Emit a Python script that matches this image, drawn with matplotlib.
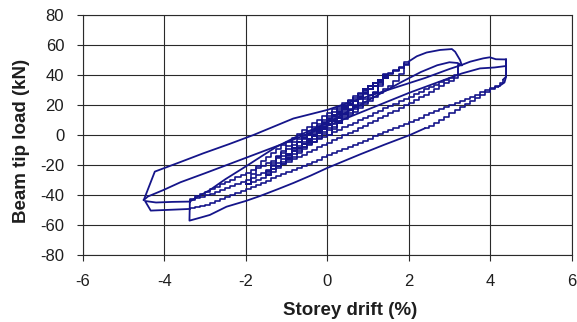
import matplotlib
matplotlib.use("Agg")
import matplotlib.pyplot as plt

plt.rcParams['font.family'] = ['Liberation Sans', 'DejaVu Sans']
plt.rcParams['axes.unicode_minus'] = False

LINE = '#15158a'
GRID = '#2a2a2a'
TEXT = '#1e1e1e'

# Small elastic cycles (+/-0.5, +/-1, +/-1.5, +/-2 %), recorded in small steps
small_drift = [
    0, 0.125, 0.25, 0.375, 0.5,
    0.375, 0.25, 0.125, 0, -0.125, -0.25, -0.375, -0.5,
    -0.375, -0.25, -0.125, 0, 0.125, 0.25, 0.375, 0.5,
    0.375, 0.25, 0.125, 0, -0.125, -0.25, -0.375, -0.5,
    # +/-1 %
    -0.375, -0.25, -0.125, 0, 0.125, 0.25, 0.375, 0.5, 0.625, 0.75, 0.875, 1.0,
    0.875, 0.75, 0.625, 0.5, 0.375, 0.25, 0.125, 0, -0.125, -0.25, -0.375, -0.5, -0.625, -0.75, -0.875, -1.0,
    -0.875, -0.75, -0.625, -0.5, -0.375, -0.25, -0.125, 0, 0.125, 0.25, 0.375, 0.5, 0.625, 0.75, 0.875, 1.0,
    0.875, 0.75, 0.625, 0.5, 0.375, 0.25, 0.125, 0, -0.125, -0.25, -0.375, -0.5, -0.625, -0.75, -0.875, -1.0,
    # +/-1.5 %
    -0.875, -0.75, -0.625, -0.5, -0.375, -0.25, -0.125, 0, 0.125, 0.25, 0.375, 0.5, 0.625, 0.75, 0.875, 1.0,
    1.125, 1.25, 1.375, 1.5,
    1.375, 1.25, 1.125, 1.0, 0.875, 0.75, 0.625, 0.5, 0.375, 0.25, 0.125, 0, -0.125, -0.25, -0.375, -0.5,
    -0.625, -0.75, -0.875, -1.0, -1.125, -1.25, -1.375, -1.5,
    -1.375, -1.25, -1.125, -1.0, -0.875, -0.75, -0.625, -0.5, -0.375, -0.25, -0.125, 0, 0.125, 0.25, 0.375,
    0.5, 0.625, 0.75, 0.875, 1.0, 1.125, 1.25, 1.375, 1.5,
    1.375, 1.25, 1.125, 1.0, 0.875, 0.75, 0.625, 0.5, 0.375, 0.25, 0.125, 0, -0.125, -0.25, -0.375, -0.5,
    -0.625, -0.75, -0.875, -1.0, -1.125, -1.25, -1.375, -1.5,
    # +/-2 %
    -1.375, -1.25, -1.125, -1.0, -0.875, -0.75, -0.625, -0.5, -0.375, -0.25, -0.125, 0, 0.125, 0.25, 0.375,
    0.5, 0.625, 0.75, 0.875, 1.0, 1.125, 1.25, 1.375, 1.5, 1.625, 1.75, 1.875, 2.0,
    1.875, 1.75, 1.625, 1.5, 1.375, 1.25, 1.125, 1.0, 0.875, 0.75, 0.625, 0.5, 0.375, 0.25, 0.125, 0,
    -0.125, -0.25, -0.375, -0.5, -0.625, -0.75, -0.875, -1.0, -1.125, -1.25, -1.375, -1.5, -1.625, -1.75,
    -1.875, -2.0,
    -1.875, -1.75, -1.625, -1.5, -1.375, -1.25, -1.125, -1.0, -0.875, -0.75, -0.625, -0.5, -0.375, -0.25,
    -0.125, 0, 0.125, 0.25, 0.375, 0.5, 0.625, 0.75, 0.875, 1.0, 1.125, 1.25, 1.375, 1.5, 1.625, 1.75,
    1.875, 2.0]
small_load = [
    0, 4, 8, 13, 19,
    14, 10, 7.5, 5, 2.5, 0, -2.5, -5,
    1.5, 4, 6.5, 9, 11.5, 14, 16.5, 19.5,
    14.5, 10, 7.5, 5, 2.5, 0, -2.5, -5,
    0, 4, 7.5, 10, 12.5, 15, 17.5, 20, 22.5, 25, 27.5, 30,
    24, 19, 16.5, 14, 11.5, 9, 6.5, 4, 1.5, -1, -3.5, -6, -8.5, -11, -13.5, -16,
    -9, -5, -2.5, 0, 2.5, 5, 7.5, 10, 12.5, 15, 17.5, 20.5, 23, 25.5, 28, 31,
    25, 20, 17.5, 15, 12.5, 10, 7.5, 5, 2.5, 0, -2.5, -5, -7.5, -10, -12.5, -15,
    -8.5, -4.5, -1.5, 1, 3.5, 6, 8.5, 11, 13.5, 16, 18.5, 21, 23.5, 26, 28.5, 31,
    33, 35.5, 38, 40,
    33, 28, 25, 22, 19.5, 17, 14.5, 12, 9.5, 7, 4.5, 2, -0.5, -3, -5.5, -8,
    -10.5, -13, -15.5, -18, -20.5, -23, -25, -27,
    -20, -15, -12, -9.5, -7, -4.5, -2, 0.5, 3, 5.5, 8, 10.5, 13, 15.5, 18,
    20.5, 23, 25.5, 28, 30.5, 33, 35.5, 38, 41,
    34, 29, 26.5, 24, 21.5, 19, 16.5, 14, 11.5, 9, 6.5, 4, 1.5, -1, -3.5, -6,
    -8.5, -11, -13.5, -16, -18.5, -21, -23.5, -26,
    -19, -14, -10.5, -7.5, -5, -2.5, 0, 2.5, 5, 7.5, 10, 12.5, 15, 17.5, 20,
    22.5, 25, 27.5, 30, 32.5, 35, 37, 39, 41, 43, 45, 47, 49,
    41, 36, 33, 30.5, 28, 25.5, 23, 20.5, 18, 15.5, 13, 10.5, 8, 5.5, 3, 0.5,
    -2, -4.5, -7, -9.5, -12, -14.5, -17, -19.5, -22, -24.5, -26.5, -28.5, -30, -31.5,
    -32.5, -33,
    -26, -21, -17.5, -14.5, -12, -9.5, -7, -4.5, -2, 0.5, 3, 5.5, 8, 10,
    12.5, 14.5, 17, 19, 21.5, 23.5, 26, 28, 30.5, 32.5, 35, 37, 39.5, 41.5, 43.5, 45.5,
    47.5, 49]

# First excursion to +3.3 %
peak1_drift = [2.0, 2.2, 2.44, 2.77, 3.06, 3.14, 3.26, 3.30]
peak1_load = [49, 52.5, 55, 56.7, 57.3, 55.5, 50, 46.7]

# Return to -3.4 % (stepped record)
back1_drift = [3.30, 3.2, 3.1, 3.0, 2.875, 2.75, 2.625, 2.5, 2.375, 2.25, 2.125, 2.0, 1.875,
               1.75, 1.625, 1.5, 1.375, 1.25, 1.125, 1.0, 0.875, 0.75, 0.625, 0.5, 0.375,
               0.25, 0.125, 0, -0.125, -0.25, -0.375, -0.5, -0.625, -0.75, -0.875, -1.0,
               -1.125, -1.25, -1.375, -1.5, -1.625, -1.75, -1.875, -2.0, -2.125, -2.25,
               -2.375, -2.5, -2.625, -2.75, -2.875, -3.0, -3.125, -3.25, -3.37]
back1_load = [46.7, 40, 38, 36.7, 35.1, 33.5, 32, 30.4, 28.8, 27.2, 25.6, 24, 22.4,
              20.9, 19.3, 17.7, 16.1, 14.5, 12.9, 11.3, 9.8, 8.2, 6.6, 5, 3.4,
              1.8, 0.3, -1.3, -2.9, -4.5, -6.1, -7.7, -9.3, -10.8, -12.4, -14,
              -15.6, -17.2, -18.8, -20.4, -21.9, -23.5, -25.1, -26.7, -28.3, -29.9,
              -31.5, -33, -34.6, -36.2, -37.8, -39.4, -41, -42.6, -44.4]

# Second excursion to +3.3 %
fwd2_drift = [-3.37, -3.2, -2.88, -2.5, -2.0, -1.6, -1.24, -0.67, 0, 0.6, 1.2, 1.8,
              2.3, 2.7, 3.0, 3.2, 3.3]
fwd2_load = [-44.4, -41.5, -36.7, -29.5, -21, -14, -7.8, 0, 8, 17, 26, 35,
             42, 46.5, 48.5, 48, 46.5]

back2_drift = [3.3, 3.2, 3.1, 3.0, 2.875, 2.75, 2.625, 2.5, 2.375, 2.25, 2.125, 2.0, 1.875,
               1.75, 1.625, 1.5, 1.375, 1.25, 1.125, 1.0, 0.875, 0.75, 0.625, 0.5, 0.375,
               0.25, 0.125, 0, -0.125, -0.25, -0.375, -0.5, -0.625, -0.75, -0.875, -1.0,
               -1.125, -1.25, -1.375, -1.5, -1.625, -1.75, -1.875, -2.0, -2.125, -2.25,
               -2.375, -2.5, -2.625, -2.75, -2.875, -3.0, -3.125, -3.25, -3.37]
back2_load = [46.5, 38, 36, 34.5, 32.6, 30.7, 28.8, 27, 25.2, 23.4, 21.6, 19.8, 18,
              16.3, 14.6, 12.9, 11.2, 9.5, 7.8, 6.1, 4.5, 2.9, 1.3, -0.3, -1.9,
              -3.5, -5.1, -6.7, -8.3, -9.9, -11.5, -13.1, -14.7, -16.3, -17.9, -19.5,
              -21, -22.5, -24, -25.5, -27, -28.5, -30, -31.4, -32.8, -34.2,
              -35.5, -36.8, -38, -39.2, -40.3, -41.3, -42.3, -43.3, -44.4]

# Drop at -3.4 % and reloading towards +4.4 %
fwd3_drift = [-3.37, -3.38, -3.1, -2.88, -2.47, -2.0, -1.65, -1.2, -0.83, -0.4, 0,
              0.4, 0.8, 1.4, 2.03, 2.4]
fwd3_load = [-44.4, -57.1, -55, -53.3, -47.8, -44, -40.7, -36, -32, -27, -22,
             -17.5, -13, -6.5, 0, 4.5]

fwd3s_drift = [2.4, 2.5, 2.625, 2.75, 2.875, 3.0, 3.125, 3.25, 3.375, 3.5, 3.625, 3.75,
               3.875, 4.0, 4.125, 4.25, 4.32]
fwd3s_load = [4.5, 6, 8, 10, 12.3, 14.5, 16.5, 18.7, 21, 23, 25, 27,
              28.8, 30.6, 32.5, 35, 37]

# First +4.4 % peak and run down to -4.5 %
back3_drift = [4.32, 4.39, 4.39, 4.39, 4.1, 3.75, 3.3, 2.7, 2.0, 1.0, 0, -1.0,
               -2.14, -3.0, -3.6, -4.02, -4.4, -4.5]
back3_load = [37, 38.9, 50.4, 46, 45, 44.4, 41, 35, 28, 17, 6, -5,
              -16.7, -25.5, -31.5, -36.7, -41, -43.3]

# Reloading from -4.5 % up to the second +4.4 % peak
fwd4_drift = [-4.5, -4.23, -3.6, -3.04, -2.4, -1.81, -0.83, 0, 0.8, 1.6, 2.4, 3.0,
              3.3, 3.51, 3.83, 3.99, 4.14, 4.32, 4.39, 4.39, 4.35, 4.2]
fwd4_load = [-43.3, -24.4, -18, -12.2, -6, 0, 11, 16.7, 24, 31, 38, 44,
             46.7, 48.9, 51.1, 51.8, 50.5, 50.4, 50.4, 38.9, 35, 32.2]

# Final unloading to the negative side (stepped record)
back4_drift = [4.2, 4.125, 4.0, 3.875, 3.75, 3.625, 3.5, 3.375, 3.25, 3.125, 3.0, 2.875,
               2.75, 2.625, 2.5, 2.375, 2.25, 2.125, 2.0, 1.875, 1.75, 1.625, 1.5, 1.375,
               1.25, 1.125, 1.0, 0.875, 0.75, 0.625, 0.5, 0.375, 0.25, 0.125, 0, -0.125,
               -0.25, -0.375, -0.5, -0.625, -0.75, -0.875, -1.0, -1.125, -1.25, -1.375,
               -1.5, -1.625, -1.75, -1.875, -2.0, -2.125, -2.25, -2.375, -2.5, -2.625,
               -2.75, -2.875, -3.0, -3.125, -3.25, -3.37]
back4_load = [32.2, 31.2, 29.8, 28.4, 27, 25.6, 24.2, 22.8, 21.4, 20, 18.6, 17.2,
              15.8, 14.4, 13, 11.6, 10.2, 8.8, 7.4, 6, 4.6, 3.2, 1.8, 0.4,
              -1, -2.4, -3.8, -5.2, -6.6, -8, -9.4, -10.8, -12.2, -13.6, -15, -16.4,
              -17.8, -19.2, -20.6, -22, -23.4, -24.8, -26.2, -27.6, -29, -30.4,
              -31.8, -33.2, -34.6, -36, -37.4, -38.8, -40.2, -41.6, -43, -44.3,
              -45.5, -46.6, -47.5, -48.3, -48.9, -49.3]

tail_drift = [-3.37, -3.8, -4.33, -4.47, -4.2, -3.8, -3.37]
tail_load = [-49.3, -49.8, -50.4, -44, -45, -44.6, -44.4]

x_ticks = [-6, -4, -2, 0, 2, 4, 6]
y_ticks = [-80, -60, -40, -20, 0, 20, 40, 60, 80]

fig = plt.figure(figsize=(5.77, 3.22), dpi=100)
ax = fig.add_axes([0.1433, 0.2081, 0.8475, 0.7453])

smooth = [(peak1_drift, peak1_load), (fwd2_drift, fwd2_load),
          (fwd3_drift, fwd3_load), (back3_drift, back3_load),
          (fwd4_drift, fwd4_load), (tail_drift, tail_load)]
stepped = [(small_drift, small_load), (back1_drift, back1_load),
           (back2_drift, back2_load), (fwd3s_drift, fwd3s_load),
           (back4_drift, back4_load)]

for xs, ys in smooth:
    ax.plot(xs, ys, color=LINE, lw=1.3, solid_joinstyle='round', zorder=3)
for xs, ys in stepped:
    ax.plot(xs, ys, color=LINE, lw=1.2, drawstyle='steps-post', zorder=3)

ax.set_xlim(-6, 6)
ax.set_ylim(-80, 80)
ax.set_xticks(x_ticks)
ax.set_yticks(y_ticks)
ax.grid(True, color=GRID, lw=0.8)
ax.set_axisbelow(True)
for s in ax.spines.values():
    s.set_color(GRID)
    s.set_linewidth(0.8)
ax.tick_params(axis='both', length=4.3, width=0.8, color=GRID, labelsize=12,
               labelcolor=TEXT)
ax.tick_params(axis='y', pad=9)
ax.tick_params(axis='x', pad=9.5)

ax.set_xlabel('Storey drift (%)', fontsize=13.5, fontweight='bold', color=TEXT)
ax.set_ylabel('Beam tip load (kN)', fontsize=13.5, fontweight='bold', color=TEXT)
ax.xaxis.set_label_coords(0.547, -0.195)
ax.yaxis.set_label_coords(-0.108, 0.475)

fig.savefig('out.png', dpi=100)
